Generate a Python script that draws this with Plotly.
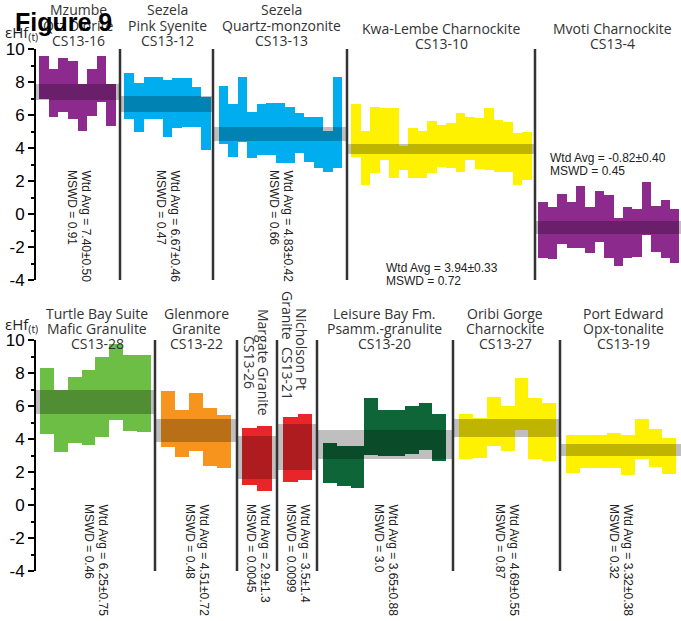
import plotly.graph_objects as go

W, H = 681, 621

# ---------------- data: eHf(t) ranges of individual zircon analyses ----------------
# upper panel
cs13_16_hi = [9.60, 8.79, 9.47, 9.27, 7.88, 8.79, 9.60, 7.90]
cs13_16_lo = [6.95, 5.90, 6.20, 5.76, 5.03, 5.94, 6.80, 5.33]
cs13_12_hi = [8.53, 7.92, 8.32, 8.32, 8.12, 8.22, 8.27, 7.72, 7.10]
cs13_12_lo = [5.78, 4.97, 5.76, 5.76, 4.64, 5.20, 5.30, 5.30, 3.90]
cs13_13_hi = [7.76, 6.65, 8.32, 6.20, 6.65, 6.71, 6.71, 6.50, 6.10, 5.90, 5.85, 5.03, 8.28]
cs13_13_lo = [4.22, 3.47, 4.38, 3.37, 3.58, 3.58, 3.07, 3.07, 3.68, 3.17, 2.81, 2.56, 2.81]
cs13_10_hi = [6.65, 5.03, 6.50, 6.44, 6.44, 4.10, 5.19, 5.03, 5.64, 5.39, 5.49, 6.14, 5.90,
              5.84, 6.44, 5.70, 5.56, 4.89, 4.95]
cs13_10_lo = [3.47, 1.76, 2.47, 3.27, 2.16, 2.67, 2.20, 2.16, 2.47, 2.87, 2.81, 2.52, 3.27,
              2.75, 2.67, 2.56, 2.56, 1.76, 2.06]
cs13_4_hi = [0.71, 0.44, 1.21, 0.71, 1.72, 0.44, 1.41, 1.15, -0.22, 0.40, 0.28, 1.92, 0.50, 0.85, 0.28]
cs13_4_lo = [-2.69, -2.75, -1.84, -2.08, -2.08, -2.38, -1.68, -2.69, -3.13, -2.69, -2.59, -1.27,
             -2.28, -2.69, -2.99]

# lower panel
cs13_28_hi = [8.28, 7.00, 7.74, 8.18, 8.99, 9.74, 9.09, 9.09]
cs13_28_lo = [4.30, 3.23, 3.78, 3.64, 4.10, 5.15, 4.50, 4.40]
cs13_22_hi = [6.90, 5.76, 6.77, 5.86, 5.45]
cs13_22_lo = [3.53, 2.93, 3.26, 2.34, 2.26]
cs13_26_hi = [4.64, 4.81]
cs13_26_lo = [1.21, 0.83]
cs13_21_hi = [5.31, 5.52]
cs13_21_lo = [1.41, 1.52]
cs13_20_hi = [3.74, 3.55, 3.55, 6.47, 5.74, 5.78, 6.00, 6.20, 5.54]
cs13_20_lo = [1.35, 1.15, 1.05, 3.03, 3.00, 3.00, 3.09, 3.33, 2.67]
cs13_27_hi = [5.52, 5.25, 6.53, 6.00, 7.68, 6.47, 6.18]
cs13_27_lo = [2.77, 2.83, 3.58, 3.29, 4.55, 2.77, 2.68]
cs13_19_hi = [4.26, 4.24, 4.27, 4.36, 4.24, 5.20, 4.59, 4.06]
cs13_19_lo = [1.96, 2.27, 2.27, 2.22, 1.80, 2.78, 2.32, 1.90]

# weighted averages (value, 2 sigma) and MSWD
wtd_avg = {"CS13-16": (7.40, 0.50), "CS13-12": (6.67, 0.46), "CS13-13": (4.83, 0.42),
           "CS13-10": (3.94, 0.33), "CS13-4": (-0.82, 0.40), "CS13-28": (6.25, 0.75),
           "CS13-22": (4.51, 0.72), "CS13-26": (2.9, 1.3), "CS13-21": (3.5, 1.4),
           "CS13-20": (3.65, 0.88), "CS13-27": (4.69, 0.55), "CS13-19": (3.32, 0.38)}
avg_text = {"CS13-16": "7.40±0.50", "CS13-12": "6.67±0.46", "CS13-13": "4.83±0.42",
            "CS13-10": "3.94±0.33", "CS13-4": "-0.82±0.40", "CS13-28": "6.25±0.75",
            "CS13-22": "4.51±0.72", "CS13-26": "2.9±1.3", "CS13-21": "3.5±1.4",
            "CS13-20": "3.65±0.88", "CS13-27": "4.69±0.55", "CS13-19": "3.32±0.38"}
mswd = {"CS13-16": "0.91", "CS13-12": "0.47", "CS13-13": "0.66", "CS13-10": "0.72",
        "CS13-4": "0.45", "CS13-28": "0.46", "CS13-22": "0.48", "CS13-26": "0.0045",
        "CS13-21": "0.0099", "CS13-20": "3.0", "CS13-27": "0.87", "CS13-19": "0.32"}

# y-axis ticks
major_ticks = [-4, -2, 0, 2, 4, 6, 8, 10]
minor_ticks = [-3, -1, 1, 3, 5, 7, 9]

# ---------------- styling / layout ----------------
PURPLE, CYAN, YELLOW = "#8D2A8E", "#00AEEF", "#FFF200"
LGREEN, ORANGE, RED, DGREEN = "#6CBE45", "#F7941D", "#E8262A", "#0E6537"
BAND = "rgba(0,0,0,0.25)"
SEP = "#333333"
TITLE_FONT = dict(family="Open Sans", size=14, color="#333333")
NOTE_FONT = dict(family="Liberation Sans, Arial", size=12, color="#222222")

# (sample, hi, lo, colour, section span px, bar span px)
top_groups = [
    ("CS13-16", cs13_16_hi, cs13_16_lo, PURPLE, (35, 120), (39, 116)),
    ("CS13-12", cs13_12_hi, cs13_12_lo, CYAN, (120, 213), (124.3, 210.7)),
    ("CS13-13", cs13_13_hi, cs13_13_lo, CYAN, (213, 347), (218.7, 342)),
    ("CS13-10", cs13_10_hi, cs13_10_lo, YELLOW, (347, 535), (351.3, 532)),
    ("CS13-4", cs13_4_hi, cs13_4_lo, PURPLE, (535, 681), (538.3, 679.3)),
]
bot_groups = [
    ("CS13-28", cs13_28_hi, cs13_28_lo, LGREEN, (35, 155), (40.3, 150.5)),
    ("CS13-22", cs13_22_hi, cs13_22_lo, ORANGE, (155, 237), (161.3, 231)),
    ("CS13-26", cs13_26_hi, cs13_26_lo, RED, (237, 277), (242.3, 271.7)),
    ("CS13-21", cs13_21_hi, cs13_21_lo, RED, (277, 317), (283.3, 312.3)),
    ("CS13-20", cs13_20_hi, cs13_20_lo, DGREEN, (317, 453), (323.3, 446)),
    ("CS13-27", cs13_27_hi, cs13_27_lo, YELLOW, (453, 560), (459.3, 556)),
    ("CS13-19", cs13_19_hi, cs13_19_lo, YELLOW, (560, 681), (566, 676)),
]

fig = go.Figure()


def add_panel(groups, xa, ya):
    # individual analyses as floating bars
    for name, hi, lo, col, _, (b0, b1) in groups:
        n = len(hi)
        w = (b1 - b0) / n
        fig.add_trace(go.Bar(
            x=[b0 + (i + 0.5) * w for i in range(n)],
            y=[h - l for h, l in zip(hi, lo)], base=lo, width=[w] * n,
            marker=dict(color=col, line=dict(width=0)),
            xaxis=xa, yaxis=ya, showlegend=False, hoverinfo="skip"))
    # weighted-average bands across each section
    for name, hi, lo, col, (s0, s1), _ in groups:
        v, e = wtd_avg[name]
        fig.add_trace(go.Bar(
            x=[(s0 + s1) / 2], y=[2 * e], base=[v - e], width=[s1 - s0],
            marker=dict(color=BAND, line=dict(width=0)),
            xaxis=xa, yaxis=ya, showlegend=False, hoverinfo="skip"))
    # section dividers
    for name, *_rest, (s0, s1), _b in groups:
        if s0 > 35:
            fig.add_shape(type="line", x0=s0, x1=s0, y0=-4, y1=10,
                          xref=xa, yref=ya, line=dict(color=SEP, width=2.5))


add_panel(top_groups, "x", "y")
add_panel(bot_groups, "x2", "y2")


def py(p):
    return 1 - p / H


def px(p):
    return p / W


ann = []


def text(x, y, s, font, xanchor="center", yanchor="middle", angle=0):
    ann.append(dict(x=px(x), y=py(y), xref="paper", yref="paper", text=s, showarrow=False,
                    font=font, xanchor=xanchor, yanchor=yanchor, textangle=angle))


# sample titles
top_titles = [
    (78, ["Mzumbe", "Qtz Diorite", "CS13-16"]),
    (167, ["Sezela", "Pink Syenite", "CS13-12"]),
    (281, ["Sezela", "Quartz-monzonite", "CS13-13"]),
    (441, ["Kwa-Lembe Charnockite", "CS13-10"]),
    (612, ["Mvoti Charnockite", "CS13-4"]),
]
for cx, lines in top_titles:
    ys = [10, 25.5, 41] if len(lines) == 3 else [29, 44]
    for yy, s in zip(ys, lines):
        text(cx, yy, s, TITLE_FONT)

bot_titles = [
    (97, ["Turtle Bay Suite", "Mafic Granulite", "CS13-28"]),
    (196, ["Glenmore", "Granite", "CS13-22"]),
    (385, ["Leisure Bay Fm.", "Psamm.-granulite", "CS13-20"]),
    (505, ["Oribi Gorge", "Charnockite", "CS13-27"]),
    (623, ["Port Edward", "Opx-tonalite", "CS13-19"]),
]
for cx, lines in bot_titles:
    for yy, s in zip([313, 328, 343], lines):
        text(cx, yy, s, TITLE_FONT)

# rotated titles in the narrow columns
text(264, 362, "Margate Granite", TITLE_FONT, angle=90)
text(250, 362, "CS13-26", TITLE_FONT, angle=90)
text(302, 349, "Nicholson Pt", TITLE_FONT, angle=90)
text(288, 345, "Granite  CS13-21", TITLE_FONT, angle=90)

# weighted-average notes, vertical
vert_notes = [("CS13-16", 79, 168), ("CS13-12", 168, 168), ("CS13-13", 281, 168),
              ("CS13-28", 96, 502), ("CS13-22", 197, 502), ("CS13-26", 258, 502),
              ("CS13-21", 298, 502), ("CS13-20", 386, 502), ("CS13-27", 507, 502),
              ("CS13-19", 621, 502)]
for name, cx, y0 in vert_notes:
    text(cx + 6.5, y0, "Wtd Avg = " + avg_text[name], NOTE_FONT, yanchor="top", angle=90)
    text(cx - 6.5, y0, "MSWD = " + mswd[name], NOTE_FONT, yanchor="top", angle=90)

# weighted-average notes, horizontal
for name, x0, y0 in [("CS13-10", 384, 268), ("CS13-4", 548, 158)]:
    text(x0, y0, "Wtd Avg = " + avg_text[name], NOTE_FONT, xanchor="left")
    text(x0, y0 + 12.5, "MSWD = " + mswd[name], NOTE_FONT, xanchor="left")

# axis titles
YT_FONT = dict(family="Open Sans", size=15, color="#222222")
text(3, 33, "εHf<sub>(t)</sub>", YT_FONT, xanchor="left")
text(3, 325, "εHf<sub>(t)</sub>", YT_FONT, xanchor="left")

# figure label
text(13, 22, "<b>Figure 9</b>", dict(family="Liberation Sans, Arial", size=25, color="#000000"),
     xanchor="left")

yax = dict(range=[-4, 10], anchor="free", position=px(35), showline=True, linecolor="#000000",
           linewidth=2, ticks="outside", ticklen=6, tickwidth=2, tickcolor="#000000",
           tickmode="array", tickvals=major_ticks, ticktext=[str(t) for t in major_ticks],
           showgrid=False, zeroline=False, automargin=False,
           tickfont=dict(family="Liberation Sans, Arial", size=17, color="#000000"),
           minor=dict(tickvals=minor_ticks, ticklen=3, tickwidth=1.5,
                      tickcolor="#000000", ticks="outside", showgrid=False),
           fixedrange=True)
xax = dict(range=[0, W], domain=[0, 1], visible=False, fixedrange=True, automargin=False)

fig.update_layout(
    template="none",
    width=W, height=H, margin=dict(l=0, r=0, t=0, b=0, pad=0, autoexpand=False),
    paper_bgcolor="white", plot_bgcolor="rgba(0,0,0,0)",
    barmode="overlay", bargap=0, showlegend=False,
    xaxis=dict(xax, anchor="y"),
    xaxis2=dict(xax, anchor="y2"),
    yaxis=dict(yax, domain=[py(280), py(49)]),
    yaxis2=dict(yax, domain=[py(571), py(340)]),
    annotations=ann,
)

fig.write_html("out.html", config={"displayModeBar": False})
